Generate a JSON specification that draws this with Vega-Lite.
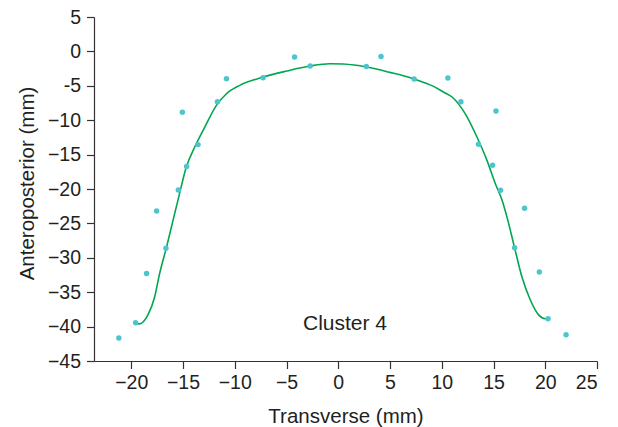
{
  "$schema": "https://vega.github.io/schema/vega-lite/v6.json",
  "width": 503,
  "height": 344,
  "autosize": {"type": "none"},
  "padding": {"left": 94, "top": 17, "right": 21, "bottom": 66},
  "background": "white",
  "config": {
    "view": {"stroke": null},
    "font": "Liberation Sans",
    "axis": {
      "grid": false,
      "domainColor": "#333333",
      "tickColor": "#333333",
      "domainWidth": 1.2,
      "tickWidth": 1.2,
      "tickSize": 7.5,
      "labelColor": "#231f20",
      "titleColor": "#231f20",
      "labelFontSize": 19.5,
      "titleFontSize": 20.5,
      "labelFont": "Liberation Sans",
      "titleFont": "Liberation Sans",
      "titleFontWeight": "normal",
      "labelOverlap": false
    }
  },
  "datasets": {
    "points": [
      {"x": -21.2, "y": -41.66},
      {"x": -19.58, "y": -39.44},
      {"x": -18.52, "y": -32.27},
      {"x": -17.55, "y": -23.2},
      {"x": -16.65, "y": -28.6},
      {"x": -15.45, "y": -20.13},
      {"x": -15.06, "y": -8.85},
      {"x": -14.65, "y": -16.74},
      {"x": -13.55, "y": -13.55},
      {"x": -11.67, "y": -7.31},
      {"x": -10.8, "y": -3.97},
      {"x": -7.26, "y": -3.82},
      {"x": -4.22, "y": -0.83},
      {"x": -2.71, "y": -2.13},
      {"x": 2.71, "y": -2.18},
      {"x": 4.13, "y": -0.73},
      {"x": 7.33, "y": -4.02},
      {"x": 10.59, "y": -3.87},
      {"x": 11.85, "y": -7.31},
      {"x": 13.55, "y": -13.5},
      {"x": 14.91, "y": -16.55},
      {"x": 15.24, "y": -8.66},
      {"x": 15.68, "y": -20.18},
      {"x": 17.04, "y": -28.55},
      {"x": 18.0, "y": -22.79},
      {"x": 19.43, "y": -32.08},
      {"x": 20.27, "y": -38.85},
      {"x": 22.01, "y": -41.18}
    ],
    "curve": [
      {"x": -19.58, "y": -39.55},
      {"x": -19.2, "y": -39.6},
      {"x": -18.39, "y": -38.3},
      {"x": -17.74, "y": -35.7},
      {"x": -17.26, "y": -32.3},
      {"x": -16.61, "y": -28.55},
      {"x": -15.97, "y": -24.6},
      {"x": -15.45, "y": -21.4},
      {"x": -14.68, "y": -16.8},
      {"x": -13.87, "y": -13.9},
      {"x": -12.9, "y": -11.0},
      {"x": -11.77, "y": -7.84},
      {"x": -10.8, "y": -6.15},
      {"x": -9.52, "y": -4.94},
      {"x": -7.26, "y": -3.73},
      {"x": -5.0, "y": -2.86},
      {"x": -2.74, "y": -2.13},
      {"x": -0.8, "y": -1.79},
      {"x": 0.48, "y": -1.84},
      {"x": 2.75, "y": -2.27},
      {"x": 5.0, "y": -3.05},
      {"x": 7.26, "y": -3.97},
      {"x": 9.2, "y": -5.08},
      {"x": 10.16, "y": -5.9},
      {"x": 11.0, "y": -6.63},
      {"x": 12.26, "y": -9.05},
      {"x": 13.4, "y": -12.44},
      {"x": 14.36, "y": -15.8},
      {"x": 15.17, "y": -19.2},
      {"x": 15.82, "y": -21.6},
      {"x": 16.46, "y": -25.0},
      {"x": 17.04, "y": -28.55},
      {"x": 17.75, "y": -32.8},
      {"x": 18.55, "y": -36.1},
      {"x": 19.36, "y": -38.3},
      {"x": 20.0, "y": -38.85},
      {"x": 20.27, "y": -38.85}
    ],
    "label": [
      {"x": 0.65, "y": -40.5, "text": "Cluster 4"}
    ]
  },
  "layer": [
    {
      "data": {"name": "curve"},
      "mark": {"type": "line", "color": "#00a651", "strokeWidth": 1.6, "interpolate": "monotone"},
      "encoding": {
        "x": {
          "field": "x", "type": "quantitative",
          "scale": {"domain": [-23.6, 25], "nice": false, "zero": false},
          "axis": {"title": "Transverse (mm)", "values": [-20, -15, -10, -5, 0, 5, 10, 15, 20, 25], "labelPadding": 5, "labelOverlap": false, "titleY": 61, "titleBaseline": "alphabetic"}
        },
        "y": {
          "field": "y", "type": "quantitative",
          "scale": {"domain": [-45, 5], "nice": false, "zero": false},
          "axis": {"title": "Anteroposterior (mm)", "tickCount": 10, "labelPadding": 6, "labelOverlap": false, "labelExpr": "datum.value == -5 ? '-5' : datum.label", "titleX": -61, "titleY": 166, "titleBaseline": "alphabetic"}
        }
      }
    },
    {
      "data": {"name": "points"},
      "mark": {"type": "circle", "color": "#4ec5cd", "opacity": 1, "size": 30},
      "encoding": {
        "x": {"field": "x", "type": "quantitative"},
        "y": {"field": "y", "type": "quantitative"}
      }
    },
    {
      "data": {"name": "label"},
      "mark": {"type": "text", "fontSize": 21, "font": "Liberation Sans", "color": "#231f20", "align": "center", "baseline": "alphabetic"},
      "encoding": {
        "x": {"field": "x", "type": "quantitative"},
        "y": {"field": "y", "type": "quantitative"},
        "text": {"field": "text"}
      }
    }
  ]
}
